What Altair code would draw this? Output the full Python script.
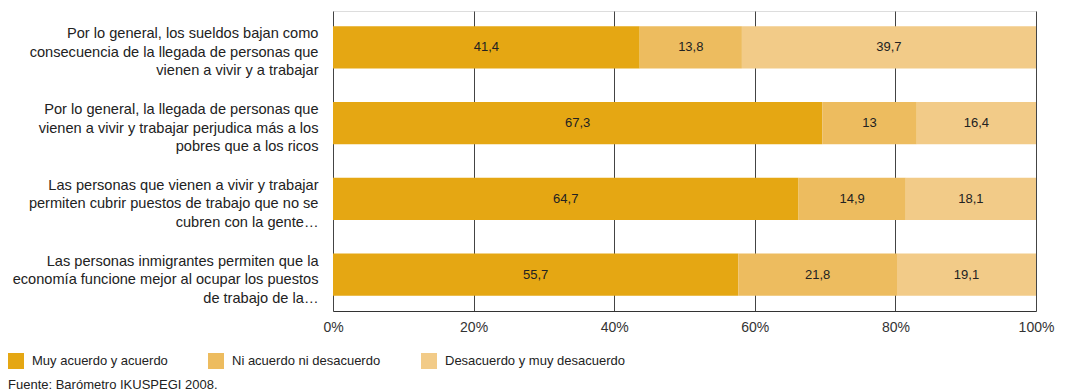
import altair as alt
import pandas as pd

statements = [
    "Por lo general, los sueldos bajan como|consecuencia de la llegada de personas que|vienen a vivir y a trabajar",
    "Por lo general, la llegada de personas que|vienen a vivir y trabajar perjudica más a los|pobres que a los ricos",
    "Las personas que vienen a vivir y trabajar|permiten cubrir puestos de trabajo que no se|cubren con la gente…",
    "Las personas inmigrantes permiten que la|economía funcione mejor al ocupar los puestos|de trabajo de la…",
]
categories = ["Muy acuerdo y acuerdo", "Ni acuerdo ni desacuerdo", "Desacuerdo y muy desacuerdo"]
colors = ["#E5A713", "#EDBC5F", "#F2CB88"]
muy_acuerdo = [41.4, 67.3, 64.7, 55.7]
ni_acuerdo = [13.8, 13.0, 14.9, 21.8]
desacuerdo = [39.7, 16.4, 18.1, 19.1]
source = "Fuente: Barómetro IKUSPEGI 2008."

rows = []
for i, s in enumerate(statements):
    for j, (cat, vals) in enumerate(zip(categories, [muy_acuerdo, ni_acuerdo, desacuerdo])):
        v = vals[i]
        lab = (f"{v:.1f}".rstrip("0").rstrip(".")).replace(".", ",")
        rows.append({"statement": s, "category": cat, "order": j, "value": v, "label": lab})
df = pd.DataFrame(rows)

FONT = "Liberation Sans"

base = alt.Chart(df).transform_stack(
    stack="value", groupby=["statement"], sort=[{"field": "order"}],
    as_=["x0", "x1"], offset="normalize"
).transform_calculate(mid="(datum.x0 + datum.x1) / 2")

y = alt.Y("statement:N", sort=statements, title=None,
          scale=alt.Scale(paddingInner=0.44, paddingOuter=0.2),
          axis=alt.Axis(labelExpr="split(datum.label, '|')", labelFontSize=14.6,
                        labelLineHeight=18.5, labelColor="#222", labelFont=FONT,
                        labelPadding=15, labelOffset=-13, ticks=False, domain=False,
                        labelLimit=400))

bars = base.mark_bar().encode(
    x=alt.X("x0:Q", title=None, scale=alt.Scale(domain=[0, 1], nice=False),
            axis=alt.Axis(format="%", values=[0, 0.2, 0.4, 0.6, 0.8, 1.0], tickSize=0,
                          labelPadding=9, labelFontSize=14, labelColor="#333", labelFont=FONT,
                          grid=True, gridColor="#444", gridWidth=1, domainColor="#333",
                          labelFlush=False)),
    x2="x1:Q",
    y=y,
    color=alt.Color("category:N", sort=categories,
                    scale=alt.Scale(domain=categories, range=colors),
                    legend=alt.Legend(title=None, orient="none", direction="horizontal",
                                      legendX=-325, legendY=342, columns=3, symbolType="square",
                                      symbolSize=256, symbolStrokeWidth=0, symbolOpacity=1,
                                      labelFontSize=13, labelFont=FONT, labelColor="#222",
                                      labelLimit=300, columnPadding=40, labelOffset=8)),
    order=alt.Order("order:Q"),
)

text = base.mark_text(fontSize=13, font=FONT, color="#222").encode(
    x="mid:Q",
    y=alt.Y("statement:N", sort=statements),
    text="label:N",
)

chart = alt.layer(bars, text).properties(
    width=703, height=300,
    autosize=alt.AutoSizeParams(type="none"),
    padding={"left": 325, "top": 3, "right": 22, "bottom": 81},
    title=alt.TitleParams(source, orient="bottom", anchor="start", offset=10,
                          fontSize=13, font=FONT, fontWeight="normal", color="#222"),
).configure_view(stroke="#333", strokeWidth=1).configure(background="white")

chart.save("out.html", embed_options={"renderer": "svg", "actions": False})
